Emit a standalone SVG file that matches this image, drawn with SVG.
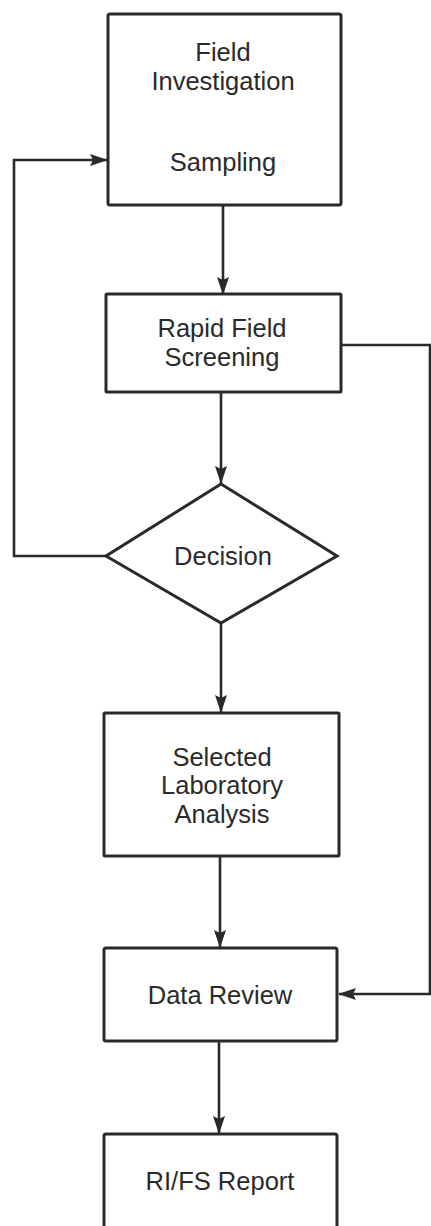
<svg xmlns="http://www.w3.org/2000/svg" width="431" height="1226" viewBox="0 0 431 1226">
<style>
.box{fill:#fff;stroke:#2a2a2a;stroke-width:3}
.ln{fill:none;stroke:#2a2a2a;stroke-width:2.6}
.t{font-family:"Liberation Sans",Arial,sans-serif;font-size:25.5px;fill:#2a2a2a;text-anchor:middle}
</style>
<defs>
<marker id="ah" markerUnits="userSpaceOnUse" markerWidth="18" markerHeight="12" refX="17" refY="6" orient="auto">
<path d="M0,0 L18,6 L0,12 L3,6 z" fill="#2a2a2a"/>
</marker>
</defs>
<rect width="431" height="1226" fill="#fff"/>
<g id="connectors">
<path class="ln" d="M223,205 V294" marker-end="url(#ah)"/>
<path class="ln" d="M221,392 V483" marker-end="url(#ah)"/>
<path class="ln" d="M221,623 V712" marker-end="url(#ah)"/>
<path class="ln" d="M220,856 V947" marker-end="url(#ah)"/>
<path class="ln" d="M219,1041 V1133" marker-end="url(#ah)"/>
<path class="ln" d="M106,556 H14 V160 H107" marker-end="url(#ah)"/>
<path class="ln" d="M341,345 H430 V994 H339" marker-end="url(#ah)"/>
</g>
<g id="n1">
<rect class="box" x="108" y="14" width="233" height="191" rx="2"/>
<text class="t" x="223" y="61">Field</text>
<text class="t" x="223" y="90">Investigation</text>
<text class="t" x="223" y="171">Sampling</text>
</g>
<g id="n2">
<rect class="box" x="106" y="294" width="235" height="98" rx="1"/>
<text class="t" x="222" y="337">Rapid Field</text>
<text class="t" x="222" y="366">Screening</text>
</g>
<g id="n3">
<polygon class="box" points="221,484 337,556 221,623 106,556"/>
<text class="t" x="223" y="565">Decision</text>
</g>
<g id="n4">
<rect class="box" x="104" y="713" width="235" height="143" rx="1"/>
<text class="t" x="222" y="766">Selected</text>
<text class="t" x="222" y="794">Laboratory</text>
<text class="t" x="222" y="823">Analysis</text>
</g>
<g id="n5">
<rect class="box" x="104" y="948" width="233" height="93" rx="2"/>
<text class="t" x="220" y="1004">Data Review</text>
</g>
<g id="n6">
<rect class="box" x="104" y="1134" width="233" height="96" rx="2"/>
<text class="t" x="220" y="1190">RI/FS Report</text>
</g>
</svg>
